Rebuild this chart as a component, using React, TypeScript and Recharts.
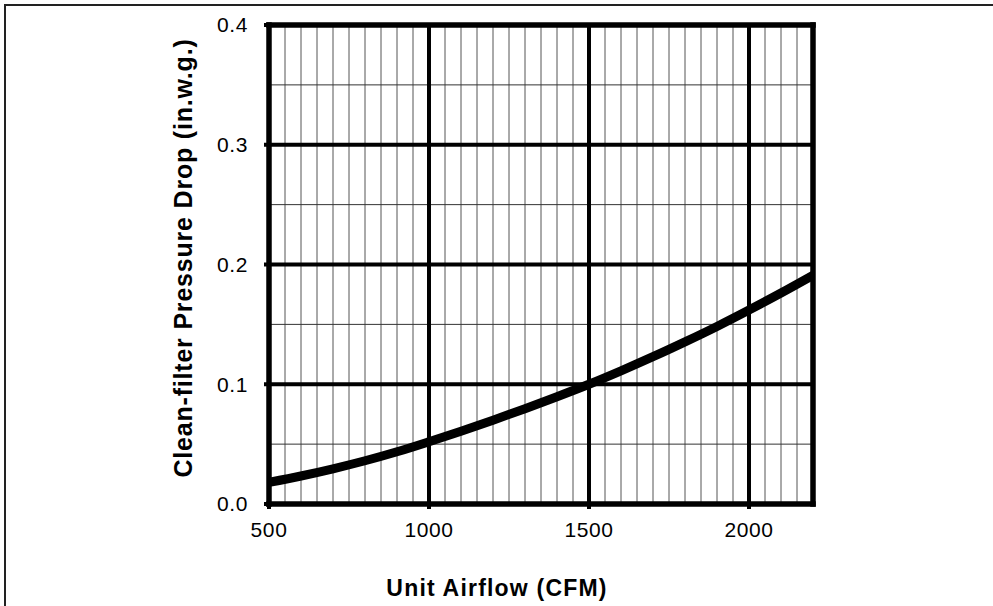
import { Label, Line, LineChart, ReferenceLine, XAxis, YAxis } from "recharts";

const airflow = [500, 600, 700, 800, 900, 1000, 1100, 1200, 1300, 1400, 1500, 1600, 1700, 1800, 1900, 2000, 2100, 2200];
const pressureDrop = [
  0.018, 0.0234, 0.0294, 0.0361, 0.0436, 0.052, 0.0608, 0.07, 0.0796, 0.0896, 0.1, 0.1112, 0.123, 0.1354, 0.1483,
  0.162, 0.1762, 0.191,
];

const xTicks = [500, 1000, 1500, 2000];
const yTicks = [0, 0.1, 0.2, 0.3, 0.4];
const xMajor = [1000, 1500, 2000];
const yMajor = [0.1, 0.2, 0.3];
const xMinor = [
  550, 600, 650, 700, 750, 800, 850, 900, 950, 1050, 1100, 1150, 1200, 1250, 1300, 1350, 1400, 1450, 1550, 1600,
  1650, 1700, 1750, 1800, 1850, 1900, 1950, 2050, 2100, 2150,
];
const yMinor = [0.05, 0.15, 0.25, 0.35];

const data = airflow.map((cfm, i) => ({ cfm, dp: pressureDrop[i] }));

const font = "Liberation Sans, Arial, sans-serif";
const tickStyle = { fontSize: 21, fill: "#000", letterSpacing: 0.6, fontFamily: font };

export default function App() {
  return (
    <div style={{ position: "absolute", left: 0, top: 0, width: 993, height: 606, background: "#fff" }}>
      <div
        style={{
          position: "absolute",
          left: 4,
          top: 4,
          width: 987,
          height: 600,
          borderTop: "2px solid #222",
          borderLeft: "2px solid #222",
        }}
      />
      <LineChart
        width={993}
        height={606}
        data={data}
        margin={{ top: 25, right: 180, bottom: 72, left: 209 }}
        style={{ position: "absolute", left: 0, top: 0 }}
      >
        {xMinor.map((v) => (
          <ReferenceLine key={`xm${v}`} x={v} stroke="#555" strokeWidth={1} />
        ))}
        {yMinor.map((v) => (
          <ReferenceLine key={`ym${v}`} y={v} stroke="#333" strokeWidth={1} />
        ))}
        {xMajor.map((v) => (
          <ReferenceLine key={`xM${v}`} x={v} stroke="#000" strokeWidth={4} />
        ))}
        {yMajor.map((v) => (
          <ReferenceLine key={`yM${v}`} y={v} stroke="#000" strokeWidth={4} />
        ))}
        <ReferenceLine x={2200} stroke="#000" strokeWidth={5.5} strokeLinecap="square" />
        <ReferenceLine y={0.4} stroke="#000" strokeWidth={5.5} strokeLinecap="square" />
        <XAxis
          dataKey="cfm"
          type="number"
          domain={[500, 2200]}
          ticks={xTicks}
          allowDataOverflow
          height={30}
          tickSize={5}
          tickMargin={13}
          axisLine={{ stroke: "#000", strokeWidth: 5.5, strokeLinecap: "square" }}
          tickLine={{ stroke: "#000", strokeWidth: 4 }}
          tick={tickStyle}
        >
          <Label
            content={() => (
              <text
                x={497}
                y={596}
                textAnchor="middle"
                fontSize={23}
                fontWeight="bold"
                letterSpacing={1.2}
                fontFamily={font}
                fill="#000"
              >
                Unit Airflow (CFM)
              </text>
            )}
          />
        </XAxis>
        <YAxis
          type="number"
          domain={[0, 0.4]}
          ticks={yTicks}
          allowDataOverflow
          width={60}
          tickSize={5}
          tickMargin={16}
          tickFormatter={(v: number) => v.toFixed(1)}
          axisLine={{ stroke: "#000", strokeWidth: 5.5, strokeLinecap: "square" }}
          tickLine={{ stroke: "#000", strokeWidth: 4 }}
          tick={tickStyle}
        >
          <Label
            content={() => (
              <text
                x={183}
                y={258}
                transform="rotate(-90, 183, 258)"
                textAnchor="middle"
                dominantBaseline="central"
                fontSize={25}
                fontWeight="bold"
                letterSpacing={0.8}
                fontFamily={font}
                fill="#000"
              >
                Clean-filter Pressure Drop (in.w.g.)
              </text>
            )}
          />
        </YAxis>
        <Line
          type="monotone"
          dataKey="dp"
          stroke="#000"
          strokeWidth={9}
          dot={false}
          activeDot={false}
          isAnimationActive={false}
        />
      </LineChart>
    </div>
  );
}
